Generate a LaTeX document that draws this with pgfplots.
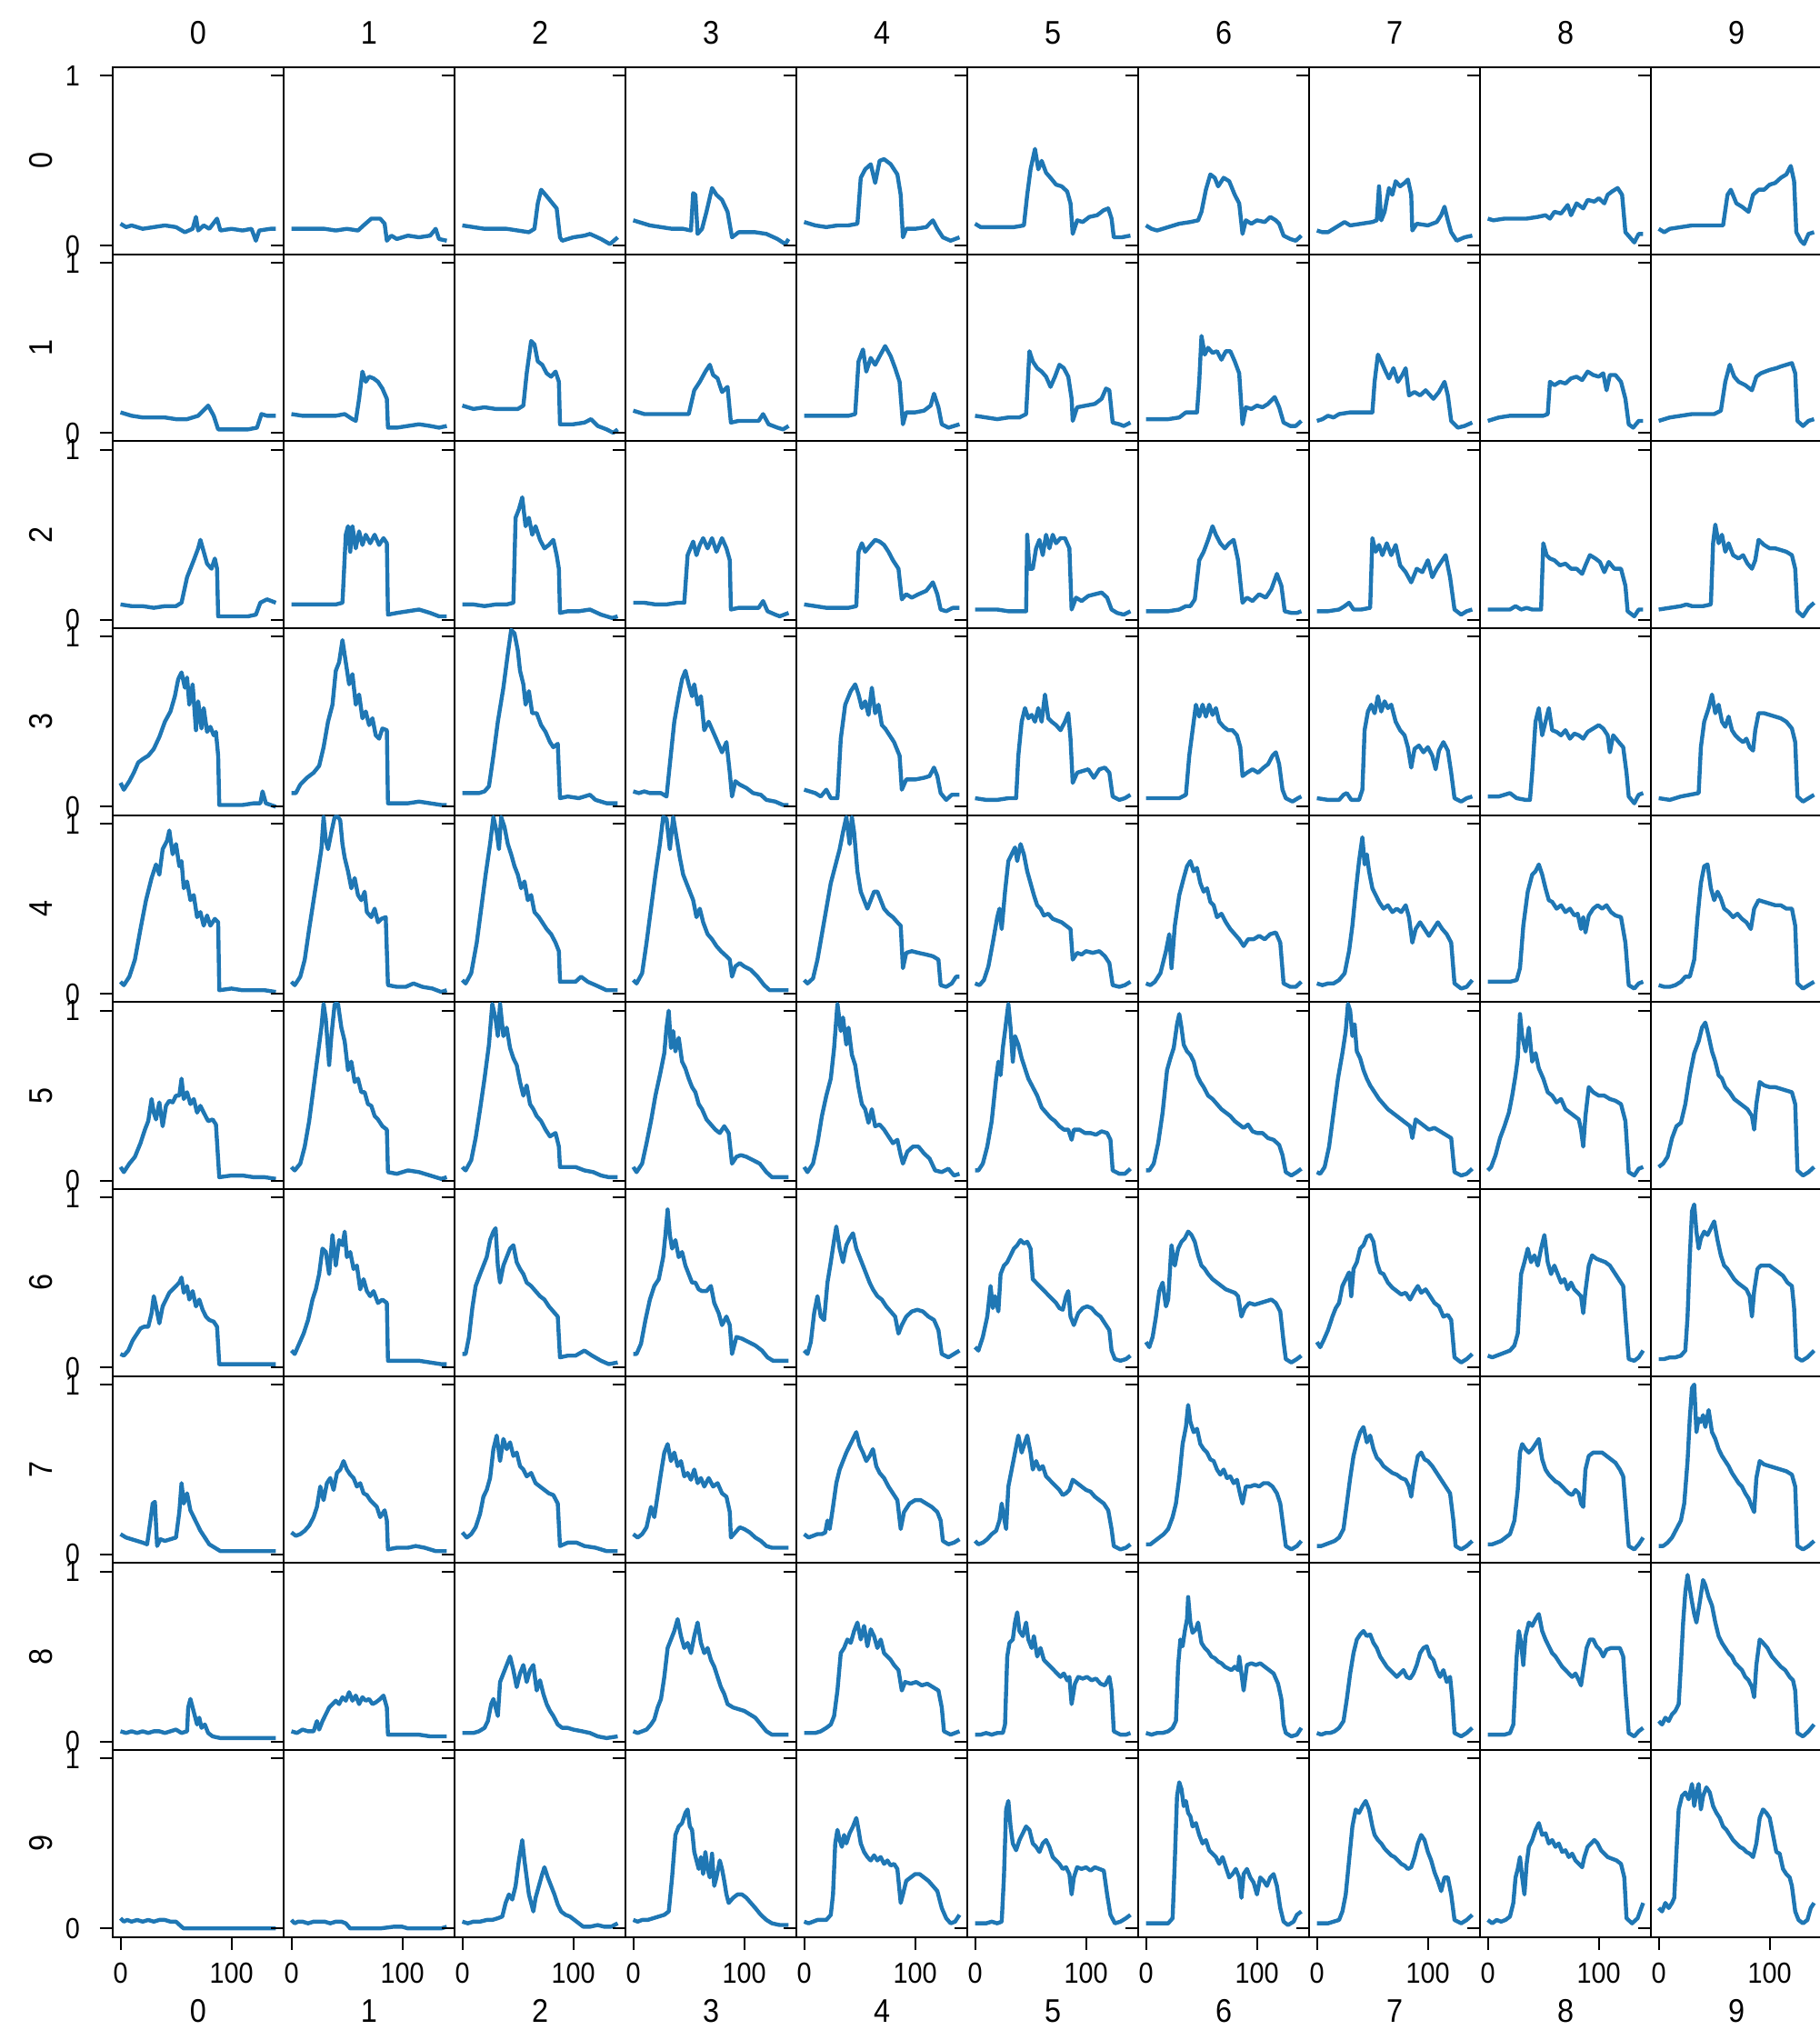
\documentclass[border=0pt]{standalone}
\usepackage{fontspec}
\setmainfont{Liberation Sans}[FakeStretch=0.9]
\usepackage{pgfplots}
\pgfplotsset{compat=1.18}
\definecolor{tabblue}{HTML}{1F77B4}
\pgfplotsset{pan/.style={scale only axis, width=47pt, height=51.4125pt, anchor=north west,
  xmin=-7, xmax=147, ymin=-0.05, ymax=1.05,
  axis line style={black, line width=0.5pt},
  tick align=outside, major tick length=3.5pt,
  every tick/.style={black, line width=0.5pt},
  ytick={0,1}, ytick pos=left, yticklabels={,,},
  xtick=\empty, xtick pos=bottom,
  tick label style={font=\fontsize{8}{9}\selectfont},
  yticklabel style={xshift=-2pt},
  clip=true}}
\newcommand{\panel}[4]{%
  \begin{axis}[pan, at={({(31+47*#2)*1pt},{-(18.525+51.4125*#1)*1pt})}, #3]
  \addplot[tabblue, line width=1.1pt, line join=round] coordinates {#4};
  \end{axis}}
\newcommand{\lc}{yticklabels={0,1}}
\newcommand{\lb}{xtick={0,100}, xticklabels={0,100}}
\begin{document}
\begin{tikzpicture}
% ---------------- row 0
\panel{0}{0}{\lc}{(0,0.13)(5,0.11)(10,0.12)(20,0.10)(30,0.11)(40,0.12)(50,0.11)(58,0.08)(65,0.1)(68,0.17)(70,0.09)(75,0.12)(80,0.1)(87,0.16)(90,0.09)(100,0.1)(110,0.09)(118,0.1)(122,0.03)(125,0.09)(135,0.1)(140,0.1)}
\panel{0}{1}{}{(0,0.1)(10,0.1)(20,0.1)(30,0.1)(40,0.09)(50,0.1)(60,0.09)(65,0.12)(72,0.16)(80,0.16)(84,0.13)(86,0.03)(90,0.06)(95,0.04)(105,0.06)(115,0.05)(125,0.06)(130,0.1)(133,0.04)(140,0.03)}
\panel{0}{2}{}{(0,0.12)(10,0.11)(20,0.1)(30,0.1)(40,0.1)(50,0.09)(60,0.08)(65,0.1)(68,0.25)(71,0.33)(75,0.3)(80,0.26)(85,0.22)(88,0.05)(90,0.03)(100,0.05)(110,0.06)(115,0.07)(125,0.04)(133,0.01)(140,0.05)}
\panel{0}{3}{}{(0,0.15)(5,0.14)(15,0.12)(25,0.11)(35,0.1)(45,0.1)(52,0.09)(54,0.31)(56,0.3)(58,0.07)(62,0.1)(66,0.2)(71,0.34)(75,0.3)(80,0.27)(85,0.2)(89,0.05)(95,0.08)(110,0.08)(120,0.07)(130,0.04)(137,0.01)(140,0.04)}
\panel{0}{4}{}{(0,0.14)(10,0.12)(20,0.11)(30,0.12)(40,0.12)(48,0.13)(51,0.4)(55,0.45)(60,0.48)(64,0.37)(68,0.5)(72,0.51)(78,0.48)(84,0.42)(87,0.3)(89,0.05)(92,0.1)(100,0.1)(110,0.11)(116,0.15)(120,0.1)(125,0.05)(132,0.03)(140,0.05)}
\panel{0}{5}{}{(0,0.13)(5,0.11)(15,0.11)(25,0.11)(35,0.11)(44,0.12)(47,0.3)(50,0.45)(54,0.57)(57,0.45)(60,0.5)(64,0.43)(68,0.4)(73,0.36)(78,0.35)(83,0.32)(86,0.25)(88,0.07)(92,0.15)(97,0.14)(103,0.17)(110,0.18)(116,0.21)(120,0.22)(123,0.16)(125,0.05)(132,0.05)(140,0.06)}
\panel{0}{6}{}{(0,0.12)(5,0.1)(10,0.09)(20,0.11)(30,0.13)(40,0.14)(47,0.15)(50,0.2)(54,0.33)(58,0.42)(62,0.4)(65,0.35)(70,0.4)(75,0.38)(80,0.3)(84,0.25)(87,0.07)(90,0.15)(95,0.13)(100,0.15)(107,0.14)(112,0.17)(117,0.15)(120,0.13)(124,0.06)(130,0.04)(135,0.03)(140,0.06)}
\panel{0}{7}{}{(0,0.09)(5,0.08)(10,0.08)(15,0.1)(20,0.12)(25,0.14)(30,0.12)(40,0.13)(50,0.14)(54,0.15)(56,0.35)(58,0.15)(61,0.2)(65,0.34)(68,0.3)(71,0.38)(75,0.35)(79,0.37)(82,0.39)(85,0.3)(86,0.09)(90,0.13)(100,0.12)(108,0.14)(112,0.18)(115,0.23)(118,0.15)(121,0.08)(126,0.03)(133,0.05)(140,0.06)}
\panel{0}{8}{}{(0,0.16)(5,0.15)(15,0.16)(25,0.16)(35,0.16)(45,0.17)(52,0.18)(56,0.16)(60,0.2)(66,0.19)(72,0.24)(75,0.18)(80,0.25)(86,0.22)(90,0.27)(96,0.26)(100,0.28)(105,0.25)(108,0.3)(112,0.32)(117,0.34)(121,0.3)(124,0.08)(128,0.05)(132,0.02)(136,0.07)(140,0.07)}
\panel{0}{9}{}{(0,0.1)(5,0.08)(10,0.1)(20,0.11)(30,0.12)(40,0.12)(50,0.12)(58,0.12)(62,0.3)(65,0.33)(70,0.25)(75,0.23)(81,0.2)(85,0.3)(90,0.33)(95,0.33)(100,0.36)(105,0.37)(110,0.4)(115,0.42)(119,0.47)(122,0.38)(124,0.08)(128,0.03)(131,0.01)(135,0.07)(140,0.08)}
% ---------------- row 1
\panel{1}{0}{\lc}{(0,0.12)(10,0.1)(20,0.09)(30,0.09)(40,0.09)(50,0.08)(60,0.08)(70,0.1)(76,0.14)(79,0.16)(84,0.1)(88,0.02)(100,0.02)(115,0.02)(123,0.03)(127,0.11)(132,0.1)(140,0.1)}
\panel{1}{1}{}{(0,0.11)(10,0.1)(20,0.1)(30,0.1)(40,0.1)(48,0.11)(55,0.08)(58,0.07)(61,0.2)(64,0.36)(67,0.3)(70,0.33)(74,0.32)(78,0.3)(82,0.26)(86,0.2)(87,0.03)(95,0.03)(105,0.04)(115,0.05)(125,0.04)(133,0.03)(140,0.04)}
\panel{1}{2}{}{(0,0.16)(10,0.14)(20,0.15)(30,0.14)(40,0.14)(50,0.14)(55,0.16)(58,0.35)(62,0.54)(65,0.52)(68,0.42)(72,0.4)(76,0.35)(80,0.33)(84,0.36)(87,0.3)(88,0.05)(100,0.05)(110,0.06)(116,0.08)(122,0.04)(130,0.02)(136,0.0)(140,0.02)}
\panel{1}{3}{}{(0,0.13)(10,0.11)(20,0.11)(30,0.11)(40,0.11)(50,0.11)(55,0.25)(60,0.3)(65,0.36)(69,0.4)(72,0.34)(76,0.32)(80,0.24)(85,0.27)(88,0.06)(95,0.07)(105,0.07)(113,0.07)(117,0.11)(122,0.05)(130,0.03)(135,0.02)(140,0.04)}
\panel{1}{4}{}{(0,0.1)(10,0.1)(20,0.1)(30,0.1)(40,0.1)(46,0.11)(49,0.42)(53,0.49)(56,0.36)(60,0.44)(64,0.4)(68,0.45)(73,0.51)(78,0.45)(82,0.38)(86,0.3)(89,0.05)(92,0.12)(100,0.12)(108,0.13)(114,0.16)(117,0.23)(121,0.15)(124,0.05)(130,0.03)(135,0.04)(140,0.05)}
\panel{1}{5}{}{(0,0.1)(10,0.09)(20,0.08)(30,0.09)(40,0.09)(46,0.11)(49,0.48)(52,0.42)(56,0.38)(60,0.36)(64,0.33)(68,0.27)(72,0.33)(76,0.4)(80,0.38)(84,0.33)(87,0.2)(88,0.07)(92,0.15)(100,0.16)(108,0.17)(114,0.2)(118,0.26)(121,0.25)(124,0.06)(130,0.05)(134,0.04)(140,0.06)}
\panel{1}{6}{}{(0,0.08)(10,0.08)(20,0.08)(30,0.09)(36,0.12)(46,0.12)(48,0.3)(50,0.57)(53,0.46)(56,0.5)(60,0.47)(64,0.48)(68,0.43)(72,0.48)(76,0.48)(80,0.42)(84,0.35)(87,0.05)(90,0.15)(95,0.14)(100,0.16)(105,0.15)(110,0.17)(116,0.21)(120,0.15)(124,0.06)(130,0.04)(135,0.04)(140,0.07)}
\panel{1}{7}{}{(0,0.07)(5,0.08)(10,0.1)(15,0.09)(20,0.11)(30,0.12)(40,0.12)(50,0.12)(52,0.3)(55,0.46)(58,0.42)(62,0.36)(65,0.32)(69,0.38)(73,0.3)(77,0.34)(80,0.38)(83,0.22)(88,0.24)(93,0.22)(98,0.25)(105,0.2)(110,0.24)(115,0.3)(118,0.22)(121,0.07)(127,0.03)(133,0.04)(140,0.06)}
\panel{1}{8}{}{(0,0.07)(5,0.08)(10,0.09)(20,0.1)(30,0.1)(40,0.1)(50,0.1)(54,0.11)(56,0.3)(60,0.28)(65,0.3)(70,0.29)(75,0.32)(80,0.33)(85,0.31)(90,0.36)(95,0.34)(100,0.33)(104,0.35)(107,0.25)(110,0.34)(115,0.34)(120,0.3)(124,0.2)(127,0.05)(131,0.03)(136,0.07)(140,0.07)}
\panel{1}{9}{}{(0,0.07)(5,0.08)(10,0.09)(20,0.1)(30,0.11)(40,0.11)(50,0.11)(56,0.13)(60,0.3)(64,0.4)(68,0.33)(72,0.3)(78,0.28)(84,0.25)(88,0.33)(92,0.35)(100,0.37)(106,0.38)(110,0.39)(115,0.4)(120,0.41)(123,0.35)(125,0.07)(130,0.04)(135,0.07)(140,0.08)}
% ---------------- row 2
\panel{2}{0}{\lc}{(0,0.09)(10,0.08)(20,0.08)(30,0.07)(40,0.08)(50,0.08)(55,0.1)(60,0.25)(66,0.35)(70,0.42)(72,0.47)(75,0.4)(78,0.33)(82,0.3)(85,0.36)(87,0.3)(88,0.02)(100,0.02)(115,0.02)(122,0.03)(126,0.1)(132,0.12)(140,0.1)}
\panel{2}{1}{}{(0,0.09)(10,0.09)(20,0.09)(30,0.09)(40,0.09)(46,0.1)(49,0.5)(51,0.55)(53,0.4)(55,0.55)(58,0.42)(61,0.52)(64,0.44)(67,0.5)(71,0.45)(75,0.5)(79,0.44)(83,0.48)(86,0.45)(87,0.03)(95,0.04)(105,0.05)(115,0.06)(125,0.04)(133,0.02)(140,0.02)}
\panel{2}{2}{}{(0,0.09)(10,0.09)(20,0.08)(30,0.09)(40,0.09)(46,0.1)(48,0.6)(51,0.65)(54,0.72)(57,0.55)(60,0.6)(63,0.5)(66,0.55)(70,0.47)(74,0.42)(78,0.44)(82,0.47)(85,0.38)(87,0.3)(88,0.04)(95,0.05)(105,0.05)(115,0.06)(125,0.03)(135,0.01)(140,0.02)}
\panel{2}{3}{}{(0,0.1)(10,0.1)(20,0.09)(30,0.09)(40,0.1)(46,0.1)(49,0.38)(54,0.46)(57,0.38)(60,0.44)(63,0.48)(67,0.42)(71,0.48)(75,0.4)(80,0.48)(84,0.42)(87,0.35)(88,0.06)(95,0.07)(105,0.07)(113,0.07)(117,0.11)(121,0.05)(128,0.03)(132,0.02)(140,0.04)}
\panel{2}{4}{}{(0,0.09)(10,0.08)(20,0.07)(30,0.07)(40,0.07)(47,0.08)(49,0.4)(52,0.45)(55,0.4)(60,0.44)(64,0.47)(68,0.46)(72,0.44)(76,0.4)(80,0.35)(85,0.3)(88,0.12)(92,0.15)(97,0.13)(103,0.15)(110,0.17)(116,0.22)(120,0.15)(123,0.06)(128,0.05)(134,0.07)(140,0.07)}
\panel{2}{5}{}{(0,0.06)(10,0.06)(20,0.06)(30,0.05)(40,0.05)(46,0.05)(47,0.5)(49,0.3)(52,0.3)(55,0.42)(58,0.47)(61,0.38)(64,0.5)(67,0.42)(70,0.5)(73,0.45)(77,0.48)(81,0.48)(85,0.42)(87,0.06)(91,0.13)(96,0.11)(102,0.14)(108,0.15)(114,0.16)(119,0.13)(123,0.06)(128,0.04)(134,0.03)(140,0.05)}
\panel{2}{6}{}{(0,0.05)(10,0.05)(20,0.05)(30,0.06)(36,0.08)(40,0.08)(44,0.12)(48,0.35)(52,0.4)(56,0.47)(60,0.55)(63,0.5)(67,0.45)(71,0.42)(75,0.45)(79,0.47)(83,0.35)(87,0.1)(91,0.13)(96,0.11)(102,0.15)(108,0.13)(113,0.18)(118,0.27)(122,0.2)(125,0.05)(131,0.04)(136,0.04)(140,0.05)}
\panel{2}{7}{}{(0,0.05)(10,0.05)(20,0.06)(25,0.08)(29,0.1)(33,0.06)(40,0.06)(48,0.07)(50,0.48)(53,0.4)(56,0.44)(59,0.38)(63,0.45)(67,0.38)(71,0.44)(75,0.32)(80,0.28)(85,0.22)(90,0.3)(95,0.28)(100,0.35)(104,0.25)(108,0.3)(113,0.35)(116,0.38)(120,0.25)(124,0.06)(130,0.03)(135,0.05)(140,0.06)}
\panel{2}{8}{}{(0,0.06)(10,0.06)(20,0.06)(25,0.08)(30,0.06)(35,0.07)(40,0.06)(48,0.06)(50,0.45)(53,0.38)(56,0.36)(60,0.35)(65,0.32)(70,0.33)(75,0.3)(80,0.3)(85,0.27)(88,0.32)(92,0.38)(97,0.36)(101,0.34)(105,0.28)(109,0.34)(114,0.3)(120,0.3)(124,0.2)(126,0.05)(132,0.02)(136,0.06)(140,0.06)}
\panel{2}{9}{}{(0,0.06)(10,0.07)(20,0.08)(25,0.09)(30,0.08)(40,0.08)(47,0.09)(49,0.45)(51,0.56)(54,0.45)(57,0.5)(60,0.4)(63,0.45)(67,0.38)(72,0.36)(76,0.38)(80,0.33)(84,0.3)(87,0.35)(90,0.47)(95,0.44)(100,0.42)(105,0.42)(110,0.41)(115,0.4)(120,0.38)(123,0.3)(125,0.05)(130,0.02)(135,0.07)(140,0.1)}
% ---------------- row 3
\panel{3}{0}{\lc}{(0,0.14)(3,0.1)(8,0.15)(12,0.2)(16,0.26)(20,0.28)(25,0.3)(30,0.34)(35,0.41)(40,0.5)(45,0.56)(49,0.65)(52,0.75)(55,0.79)(58,0.7)(60,0.76)(62,0.6)(65,0.72)(68,0.45)(70,0.62)(73,0.46)(75,0.58)(78,0.44)(81,0.47)(84,0.42)(86,0.44)(88,0.3)(89,0.01)(100,0.01)(110,0.01)(120,0.02)(126,0.02)(128,0.09)(131,0.02)(140,0.0)}
\panel{3}{1}{}{(0,0.08)(4,0.08)(8,0.13)(14,0.17)(20,0.2)(25,0.24)(29,0.35)(33,0.5)(37,0.6)(40,0.8)(43,0.85)(46,0.98)(49,0.85)(52,0.72)(55,0.78)(58,0.6)(61,0.66)(64,0.52)(67,0.56)(70,0.48)(73,0.52)(76,0.42)(79,0.4)(82,0.46)(86,0.45)(87,0.02)(95,0.02)(105,0.02)(115,0.03)(125,0.02)(135,0.01)(140,0.01)}
\panel{3}{2}{}{(0,0.08)(5,0.08)(10,0.08)(15,0.08)(20,0.09)(24,0.12)(28,0.3)(32,0.5)(37,0.7)(41,0.9)(44,1.04)(47,1.02)(50,0.92)(52,0.8)(55,0.72)(57,0.6)(60,0.68)(63,0.55)(67,0.55)(71,0.48)(75,0.44)(79,0.38)(82,0.35)(86,0.37)(88,0.05)(95,0.06)(105,0.05)(115,0.07)(120,0.04)(130,0.02)(140,0.02)}
\panel{3}{3}{}{(0,0.09)(5,0.08)(10,0.09)(15,0.08)(20,0.08)(25,0.08)(30,0.06)(33,0.25)(37,0.5)(41,0.65)(44,0.75)(47,0.8)(50,0.72)(53,0.65)(55,0.72)(58,0.6)(61,0.65)(64,0.45)(68,0.5)(72,0.44)(76,0.38)(80,0.32)(84,0.38)(87,0.2)(89,0.06)(92,0.15)(96,0.13)(102,0.11)(108,0.08)(115,0.07)(120,0.04)(128,0.03)(135,0.01)(140,0.01)}
\panel{3}{4}{}{(0,0.1)(5,0.09)(10,0.08)(15,0.06)(20,0.1)(24,0.05)(30,0.05)(33,0.4)(37,0.6)(42,0.68)(46,0.72)(49,0.66)(52,0.58)(55,0.62)(58,0.54)(61,0.7)(64,0.55)(67,0.6)(70,0.48)(73,0.46)(77,0.42)(81,0.38)(86,0.3)(88,0.1)(92,0.16)(100,0.16)(108,0.17)(113,0.18)(117,0.23)(120,0.18)(123,0.08)(128,0.04)(133,0.07)(140,0.07)}
\panel{3}{5}{}{(0,0.05)(10,0.04)(20,0.04)(30,0.05)(37,0.05)(39,0.3)(42,0.5)(45,0.58)(48,0.52)(51,0.54)(54,0.5)(57,0.58)(60,0.5)(63,0.66)(66,0.52)(69,0.5)(73,0.48)(77,0.45)(81,0.5)(84,0.55)(86,0.4)(88,0.14)(92,0.2)(97,0.21)(102,0.22)(107,0.17)(112,0.22)(117,0.23)(121,0.2)(124,0.06)(130,0.04)(135,0.05)(140,0.07)}
\panel{3}{6}{}{(0,0.05)(10,0.05)(20,0.05)(30,0.05)(36,0.07)(39,0.3)(42,0.45)(45,0.6)(48,0.53)(51,0.6)(54,0.53)(57,0.6)(60,0.54)(63,0.58)(66,0.5)(70,0.47)(74,0.45)(78,0.45)(82,0.42)(85,0.35)(87,0.18)(91,0.2)(96,0.22)(101,0.2)(106,0.23)(110,0.25)(114,0.3)(117,0.32)(120,0.25)(123,0.1)(126,0.05)(132,0.03)(137,0.05)(140,0.06)}
\panel{3}{7}{}{(0,0.05)(10,0.04)(20,0.04)(24,0.07)(27,0.08)(31,0.04)(38,0.04)(41,0.1)(43,0.45)(46,0.56)(49,0.6)(52,0.55)(55,0.65)(58,0.56)(61,0.62)(64,0.58)(67,0.6)(71,0.5)(75,0.45)(79,0.42)(82,0.35)(85,0.23)(88,0.34)(92,0.36)(96,0.32)(100,0.35)(104,0.3)(107,0.22)(110,0.33)(114,0.38)(118,0.33)(121,0.2)(124,0.05)(130,0.03)(135,0.05)(140,0.06)}
\panel{3}{8}{}{(0,0.06)(10,0.06)(20,0.08)(26,0.05)(34,0.04)(38,0.04)(40,0.2)(43,0.5)(46,0.58)(49,0.42)(52,0.5)(55,0.58)(58,0.45)(62,0.44)(66,0.42)(70,0.45)(74,0.4)(78,0.43)(82,0.42)(86,0.4)(90,0.44)(95,0.46)(100,0.48)(104,0.46)(108,0.42)(110,0.32)(113,0.42)(118,0.38)(122,0.35)(125,0.2)(127,0.06)(132,0.02)(136,0.07)(140,0.08)}
\panel{3}{9}{}{(0,0.05)(10,0.04)(20,0.06)(28,0.07)(36,0.08)(38,0.35)(41,0.5)(45,0.58)(48,0.66)(51,0.55)(54,0.6)(57,0.5)(60,0.47)(63,0.53)(66,0.45)(69,0.42)(72,0.4)(76,0.38)(79,0.4)(82,0.35)(85,0.33)(87,0.45)(90,0.55)(95,0.55)(100,0.54)(105,0.53)(110,0.52)(115,0.5)(120,0.46)(123,0.38)(125,0.06)(130,0.03)(135,0.05)(140,0.07)}
% ---------------- row 4
\panel{4}{0}{\lc}{(0,0.07)(3,0.05)(8,0.1)(13,0.2)(18,0.38)(23,0.55)(28,0.68)(32,0.76)(35,0.7)(38,0.85)(42,0.9)(44,0.96)(47,0.82)(50,0.88)(53,0.75)(55,0.78)(57,0.62)(60,0.66)(63,0.55)(66,0.58)(69,0.45)(72,0.48)(75,0.4)(78,0.46)(81,0.4)(85,0.44)(88,0.42)(89,0.02)(100,0.03)(110,0.02)(120,0.02)(130,0.02)(140,0.01)}
\panel{4}{1}{}{(0,0.07)(3,0.05)(8,0.1)(12,0.2)(16,0.38)(20,0.55)(24,0.72)(27,0.85)(29,1.04)(31,0.9)(33,0.85)(36,0.95)(39,1.04)(42,1.04)(44,1.02)(46,0.88)(48,0.8)(51,0.72)(54,0.62)(57,0.68)(60,0.58)(63,0.55)(66,0.6)(68,0.48)(72,0.45)(75,0.5)(78,0.42)(81,0.44)(85,0.45)(87,0.05)(95,0.04)(103,0.04)(110,0.06)(118,0.04)(127,0.03)(135,0.01)(140,0.02)}
\panel{4}{2}{}{(0,0.08)(3,0.06)(8,0.12)(13,0.3)(17,0.5)(21,0.7)(25,0.88)(28,1.04)(31,0.95)(33,0.85)(35,1.04)(38,0.98)(41,0.88)(44,0.82)(47,0.75)(50,0.7)(53,0.62)(56,0.66)(59,0.55)(62,0.58)(65,0.48)(69,0.45)(72,0.42)(76,0.38)(80,0.35)(84,0.3)(87,0.25)(88,0.07)(95,0.07)(102,0.07)(107,0.1)(113,0.07)(120,0.05)(130,0.02)(140,0.02)}
\panel{4}{3}{}{(0,0.08)(3,0.06)(8,0.12)(12,0.3)(16,0.5)(20,0.7)(24,0.88)(27,1.04)(30,1.03)(33,0.85)(36,1.04)(39,0.92)(42,0.8)(45,0.7)(48,0.65)(51,0.6)(54,0.55)(57,0.45)(60,0.5)(63,0.42)(67,0.35)(71,0.32)(75,0.28)(79,0.25)(84,0.22)(87,0.2)(89,0.1)(92,0.16)(96,0.18)(100,0.16)(106,0.14)(112,0.1)(118,0.05)(123,0.02)(130,0.02)(140,0.02)}
\panel{4}{4}{}{(0,0.08)(3,0.06)(8,0.09)(12,0.2)(16,0.35)(20,0.5)(24,0.65)(28,0.75)(32,0.85)(35,0.95)(38,1.04)(41,0.88)(43,1.04)(45,0.95)(48,0.72)(51,0.6)(54,0.55)(57,0.5)(60,0.55)(63,0.6)(66,0.6)(69,0.55)(72,0.5)(76,0.47)(80,0.45)(84,0.42)(87,0.4)(89,0.15)(92,0.24)(97,0.25)(103,0.24)(110,0.23)(116,0.22)(121,0.2)(123,0.05)(128,0.04)(133,0.06)(137,0.1)(140,0.1)}
\panel{4}{5}{}{(0,0.06)(4,0.05)(8,0.08)(12,0.16)(16,0.3)(20,0.45)(22,0.5)(24,0.38)(27,0.6)(30,0.78)(33,0.82)(36,0.86)(38,0.78)(41,0.88)(44,0.82)(47,0.72)(50,0.65)(53,0.58)(56,0.52)(59,0.5)(62,0.46)(66,0.47)(70,0.44)(74,0.43)(78,0.42)(82,0.4)(86,0.38)(88,0.2)(92,0.24)(96,0.23)(100,0.25)(106,0.24)(112,0.25)(117,0.22)(121,0.18)(124,0.05)(130,0.04)(135,0.05)(140,0.07)}
\panel{4}{6}{}{(0,0.06)(4,0.05)(8,0.07)(13,0.12)(18,0.25)(21,0.35)(23,0.15)(26,0.4)(30,0.58)(34,0.68)(37,0.75)(40,0.78)(43,0.72)(46,0.74)(49,0.65)(52,0.6)(55,0.62)(58,0.54)(61,0.52)(64,0.45)(68,0.47)(72,0.42)(76,0.38)(80,0.35)(84,0.32)(88,0.28)(92,0.32)(97,0.32)(102,0.34)(107,0.32)(112,0.35)(117,0.36)(121,0.3)(124,0.06)(130,0.04)(135,0.04)(140,0.07)}
\panel{4}{7}{}{(0,0.06)(5,0.05)(10,0.06)(15,0.06)(20,0.08)(25,0.12)(29,0.25)(32,0.4)(35,0.6)(38,0.78)(41,0.92)(43,0.76)(45,0.82)(47,0.72)(50,0.62)(53,0.58)(56,0.54)(60,0.5)(64,0.52)(68,0.48)(72,0.5)(76,0.48)(80,0.52)(83,0.45)(86,0.3)(89,0.38)(93,0.42)(97,0.38)(101,0.34)(105,0.38)(109,0.42)(113,0.38)(117,0.35)(121,0.3)(124,0.06)(130,0.03)(135,0.04)(140,0.08)}
\panel{4}{8}{}{(0,0.07)(10,0.07)(20,0.07)(26,0.08)(29,0.15)(32,0.4)(36,0.6)(40,0.7)(43,0.72)(46,0.76)(49,0.7)(52,0.62)(55,0.55)(58,0.54)(62,0.5)(66,0.52)(70,0.48)(74,0.5)(78,0.46)(81,0.47)(84,0.38)(86,0.45)(88,0.36)(91,0.46)(95,0.5)(99,0.52)(103,0.5)(107,0.52)(111,0.48)(115,0.46)(120,0.45)(124,0.3)(127,0.05)(132,0.03)(136,0.06)(140,0.07)}
\panel{4}{9}{}{(0,0.05)(5,0.04)(10,0.04)(15,0.05)(20,0.07)(24,0.1)(28,0.1)(32,0.2)(35,0.45)(38,0.65)(41,0.75)(44,0.76)(47,0.62)(50,0.55)(53,0.6)(56,0.56)(59,0.5)(63,0.48)(67,0.45)(71,0.47)(75,0.44)(79,0.42)(83,0.38)(86,0.5)(90,0.55)(95,0.54)(100,0.53)(105,0.52)(110,0.52)(115,0.5)(120,0.5)(123,0.4)(125,0.06)(130,0.03)(135,0.05)(140,0.07)}
% ---------------- row 5
\panel{5}{0}{\lc}{(0,0.08)(3,0.05)(8,0.1)(13,0.14)(18,0.22)(22,0.3)(25,0.35)(28,0.48)(30,0.4)(32,0.36)(35,0.46)(38,0.32)(41,0.44)(44,0.47)(47,0.46)(50,0.5)(53,0.5)(55,0.6)(57,0.48)(60,0.52)(63,0.45)(66,0.48)(69,0.4)(72,0.44)(75,0.4)(79,0.35)(83,0.36)(86,0.33)(89,0.02)(100,0.03)(110,0.03)(120,0.02)(130,0.02)(140,0.01)}
\panel{5}{1}{}{(0,0.08)(3,0.06)(8,0.1)(12,0.2)(16,0.35)(20,0.55)(24,0.75)(27,0.9)(29,1.04)(31,0.95)(34,0.68)(36,0.85)(39,1.04)(42,1.04)(45,0.9)(48,0.82)(51,0.65)(54,0.7)(57,0.58)(60,0.6)(63,0.52)(66,0.52)(69,0.45)(72,0.44)(75,0.38)(78,0.36)(82,0.32)(86,0.3)(87,0.05)(95,0.04)(105,0.06)(115,0.05)(125,0.03)(135,0.01)(140,0.02)}
\panel{5}{2}{}{(0,0.08)(3,0.06)(8,0.12)(12,0.25)(16,0.42)(20,0.6)(24,0.8)(27,1.04)(30,0.95)(32,0.85)(34,1.04)(37,0.85)(40,0.9)(43,0.78)(46,0.72)(49,0.68)(52,0.58)(55,0.5)(58,0.56)(61,0.45)(64,0.42)(67,0.38)(71,0.35)(75,0.3)(79,0.26)(84,0.28)(87,0.2)(88,0.08)(95,0.08)(102,0.08)(110,0.06)(118,0.05)(125,0.03)(132,0.02)(140,0.02)}
\panel{5}{3}{}{(0,0.08)(3,0.05)(8,0.1)(12,0.22)(16,0.35)(20,0.5)(24,0.62)(28,0.75)(30,0.9)(32,1.0)(34,0.78)(36,0.88)(38,0.76)(41,0.84)(44,0.7)(47,0.66)(50,0.6)(53,0.55)(56,0.52)(59,0.45)(62,0.42)(66,0.36)(70,0.33)(74,0.3)(78,0.28)(82,0.32)(86,0.28)(89,0.1)(93,0.14)(97,0.15)(102,0.14)(108,0.12)(114,0.1)(120,0.05)(125,0.02)(132,0.02)(140,0.02)}
\panel{5}{4}{}{(0,0.08)(3,0.05)(8,0.1)(12,0.22)(16,0.38)(20,0.5)(24,0.6)(27,0.78)(30,1.04)(33,0.88)(35,0.96)(38,0.8)(40,0.9)(43,0.74)(46,0.68)(49,0.55)(52,0.45)(55,0.42)(58,0.34)(61,0.42)(64,0.32)(68,0.33)(72,0.3)(76,0.26)(80,0.22)(84,0.24)(87,0.15)(89,0.1)(93,0.17)(98,0.2)(103,0.2)(108,0.16)(113,0.13)(118,0.06)(124,0.05)(130,0.07)(135,0.03)(140,0.04)}
\panel{5}{5}{}{(0,0.06)(3,0.06)(7,0.1)(11,0.2)(15,0.35)(19,0.6)(21,0.7)(23,0.62)(25,0.78)(27,0.88)(30,1.04)(32,0.9)(34,0.7)(36,0.85)(39,0.8)(42,0.72)(45,0.66)(48,0.6)(52,0.55)(56,0.5)(60,0.43)(64,0.4)(68,0.37)(72,0.35)(76,0.32)(80,0.3)(84,0.3)(87,0.24)(89,0.3)(94,0.3)(99,0.28)(104,0.28)(109,0.27)(114,0.29)(119,0.28)(122,0.24)(124,0.06)(130,0.04)(135,0.04)(140,0.07)}
\panel{5}{6}{}{(0,0.06)(3,0.06)(7,0.1)(11,0.22)(15,0.4)(19,0.65)(22,0.72)(25,0.78)(28,0.92)(30,0.98)(32,0.9)(34,0.8)(37,0.76)(40,0.74)(43,0.7)(46,0.62)(49,0.58)(52,0.55)(56,0.5)(60,0.48)(64,0.45)(68,0.42)(72,0.4)(76,0.38)(80,0.35)(84,0.33)(88,0.31)(92,0.33)(96,0.29)(100,0.28)(105,0.28)(110,0.25)(115,0.24)(120,0.21)(123,0.15)(126,0.05)(131,0.03)(136,0.05)(140,0.07)}
\panel{5}{7}{}{(0,0.05)(3,0.04)(7,0.08)(11,0.2)(15,0.4)(19,0.6)(23,0.75)(26,0.88)(28,1.04)(30,1.0)(32,0.85)(34,0.92)(36,0.76)(39,0.72)(42,0.65)(45,0.6)(48,0.56)(52,0.52)(56,0.48)(60,0.45)(64,0.42)(68,0.4)(72,0.38)(76,0.36)(80,0.34)(84,0.32)(86,0.25)(89,0.36)(93,0.34)(97,0.32)(101,0.3)(106,0.31)(111,0.29)(116,0.27)(121,0.25)(124,0.05)(130,0.03)(135,0.04)(140,0.07)}
\panel{5}{8}{}{(0,0.06)(3,0.08)(7,0.15)(11,0.25)(15,0.32)(19,0.4)(22,0.5)(25,0.62)(27,0.72)(29,0.98)(31,0.85)(34,0.76)(37,0.9)(40,0.7)(43,0.75)(46,0.66)(50,0.6)(54,0.52)(58,0.5)(62,0.46)(66,0.48)(70,0.42)(74,0.4)(78,0.38)(82,0.36)(84,0.3)(86,0.2)(88,0.38)(91,0.55)(95,0.52)(100,0.5)(105,0.5)(110,0.48)(115,0.47)(120,0.45)(124,0.35)(127,0.05)(132,0.03)(136,0.07)(140,0.08)}
\panel{5}{9}{}{(0,0.08)(4,0.1)(8,0.14)(12,0.25)(16,0.32)(20,0.34)(24,0.45)(28,0.62)(32,0.75)(36,0.82)(39,0.9)(42,0.93)(45,0.85)(48,0.76)(51,0.7)(54,0.62)(57,0.6)(60,0.55)(64,0.52)(68,0.48)(72,0.46)(76,0.44)(80,0.42)(84,0.38)(86,0.3)(88,0.45)(91,0.58)(95,0.56)(100,0.55)(105,0.55)(110,0.54)(115,0.53)(120,0.52)(123,0.45)(125,0.06)(130,0.03)(135,0.05)(140,0.08)}
% ---------------- row 6
\panel{6}{0}{\lc}{(0,0.08)(3,0.07)(7,0.1)(11,0.16)(15,0.2)(18,0.23)(21,0.24)(25,0.24)(28,0.32)(30,0.42)(32,0.36)(35,0.26)(38,0.36)(41,0.4)(44,0.44)(47,0.46)(50,0.48)(53,0.5)(55,0.53)(57,0.44)(60,0.48)(62,0.4)(65,0.45)(68,0.36)(71,0.4)(74,0.34)(77,0.3)(80,0.28)(84,0.27)(87,0.24)(89,0.02)(100,0.02)(110,0.02)(120,0.02)(130,0.02)(140,0.02)}
\panel{6}{1}{}{(0,0.1)(3,0.08)(7,0.14)(11,0.2)(15,0.28)(19,0.4)(22,0.46)(25,0.55)(28,0.7)(31,0.68)(34,0.55)(37,0.78)(40,0.6)(43,0.75)(46,0.72)(48,0.8)(50,0.65)(53,0.68)(56,0.58)(59,0.6)(62,0.46)(65,0.52)(68,0.45)(71,0.42)(74,0.45)(78,0.38)(82,0.4)(86,0.38)(87,0.04)(95,0.04)(105,0.04)(115,0.04)(125,0.03)(135,0.02)(140,0.02)}
\panel{6}{2}{}{(0,0.08)(3,0.08)(6,0.18)(9,0.35)(12,0.48)(16,0.55)(19,0.6)(22,0.65)(25,0.75)(28,0.8)(30,0.82)(32,0.6)(34,0.5)(37,0.6)(40,0.65)(43,0.7)(46,0.72)(49,0.62)(52,0.58)(55,0.55)(58,0.5)(62,0.48)(66,0.45)(70,0.42)(74,0.4)(78,0.36)(82,0.33)(86,0.3)(88,0.06)(95,0.07)(102,0.07)(110,0.1)(117,0.07)(125,0.04)(132,0.02)(140,0.03)}
\panel{6}{3}{}{(0,0.08)(3,0.08)(7,0.14)(11,0.28)(15,0.4)(19,0.48)(23,0.52)(27,0.65)(29,0.78)(31,0.93)(33,0.78)(35,0.7)(38,0.75)(41,0.65)(44,0.68)(47,0.6)(50,0.55)(53,0.5)(56,0.5)(59,0.46)(62,0.45)(66,0.45)(70,0.48)(73,0.38)(77,0.32)(80,0.25)(84,0.3)(87,0.25)(89,0.08)(93,0.18)(98,0.17)(104,0.15)(110,0.13)(116,0.1)(121,0.06)(126,0.04)(133,0.04)(140,0.04)}
\panel{6}{4}{}{(0,0.1)(3,0.08)(6,0.15)(9,0.32)(12,0.42)(15,0.3)(18,0.28)(21,0.5)(24,0.62)(27,0.75)(29,0.83)(32,0.7)(35,0.62)(38,0.72)(41,0.76)(44,0.79)(47,0.7)(50,0.65)(53,0.6)(56,0.55)(59,0.5)(62,0.46)(66,0.42)(70,0.4)(74,0.36)(78,0.33)(82,0.3)(85,0.2)(88,0.25)(92,0.3)(97,0.33)(102,0.34)(107,0.33)(112,0.3)(117,0.28)(121,0.22)(124,0.08)(130,0.06)(135,0.08)(140,0.1)}
\panel{6}{5}{}{(0,0.12)(3,0.1)(7,0.18)(11,0.3)(14,0.48)(16,0.35)(18,0.42)(21,0.33)(23,0.55)(26,0.6)(29,0.62)(32,0.66)(35,0.7)(38,0.72)(41,0.75)(44,0.73)(47,0.74)(50,0.7)(52,0.52)(55,0.5)(58,0.48)(61,0.46)(64,0.44)(67,0.42)(70,0.4)(73,0.38)(76,0.35)(79,0.34)(82,0.42)(84,0.45)(86,0.3)(89,0.25)(93,0.32)(97,0.35)(101,0.36)(105,0.35)(109,0.32)(113,0.3)(117,0.26)(121,0.22)(123,0.1)(126,0.05)(131,0.04)(136,0.05)(140,0.07)}
\panel{6}{6}{}{(0,0.15)(3,0.12)(6,0.18)(9,0.3)(12,0.45)(15,0.5)(18,0.36)(20,0.4)(23,0.72)(26,0.6)(29,0.7)(32,0.74)(35,0.76)(38,0.8)(41,0.78)(44,0.74)(47,0.66)(50,0.6)(53,0.58)(56,0.55)(60,0.52)(64,0.5)(68,0.48)(72,0.46)(76,0.45)(80,0.44)(83,0.42)(86,0.3)(89,0.35)(93,0.38)(98,0.37)(103,0.38)(108,0.39)(113,0.4)(117,0.38)(121,0.33)(124,0.15)(126,0.05)(131,0.03)(136,0.05)(140,0.07)}
\panel{6}{7}{}{(0,0.15)(3,0.12)(6,0.16)(10,0.22)(14,0.3)(17,0.35)(20,0.38)(23,0.48)(26,0.52)(29,0.56)(31,0.42)(33,0.58)(36,0.62)(39,0.7)(42,0.72)(45,0.77)(48,0.78)(51,0.74)(54,0.62)(57,0.56)(60,0.55)(64,0.5)(68,0.47)(72,0.45)(76,0.43)(80,0.44)(84,0.4)(88,0.45)(91,0.48)(94,0.44)(98,0.46)(102,0.42)(106,0.38)(110,0.36)(114,0.3)(118,0.31)(121,0.28)(124,0.06)(130,0.03)(135,0.05)(140,0.08)}
\panel{6}{8}{}{(0,0.07)(4,0.06)(8,0.07)(12,0.08)(16,0.09)(20,0.1)(24,0.13)(27,0.2)(30,0.55)(33,0.62)(36,0.7)(39,0.62)(42,0.66)(45,0.6)(48,0.7)(51,0.78)(54,0.62)(57,0.55)(60,0.6)(63,0.55)(66,0.5)(69,0.52)(72,0.46)(75,0.5)(78,0.46)(81,0.44)(84,0.42)(86,0.32)(88,0.45)(91,0.6)(94,0.66)(98,0.64)(102,0.63)(106,0.62)(110,0.6)(114,0.56)(118,0.52)(122,0.48)(124,0.3)(127,0.05)(132,0.04)(136,0.06)(140,0.1)}
\panel{6}{9}{}{(0,0.05)(5,0.05)(10,0.06)(15,0.06)(20,0.07)(24,0.1)(26,0.3)(28,0.65)(30,0.92)(32,0.96)(34,0.8)(36,0.7)(38,0.76)(41,0.8)(44,0.78)(47,0.82)(50,0.86)(53,0.75)(56,0.66)(59,0.6)(62,0.58)(65,0.55)(68,0.52)(71,0.5)(75,0.48)(79,0.46)(82,0.42)(84,0.3)(86,0.45)(89,0.58)(92,0.6)(96,0.6)(100,0.6)(104,0.58)(108,0.56)(112,0.54)(116,0.5)(120,0.48)(122,0.35)(124,0.06)(129,0.04)(134,0.06)(140,0.1)}
% ---------------- row 7
\panel{7}{0}{\lc}{(0,0.12)(5,0.1)(10,0.09)(15,0.08)(20,0.07)(24,0.06)(27,0.2)(29,0.3)(31,0.31)(33,0.05)(36,0.09)(40,0.08)(45,0.09)(50,0.1)(53,0.25)(55,0.42)(57,0.3)(60,0.36)(63,0.26)(66,0.22)(69,0.18)(72,0.14)(76,0.1)(80,0.06)(85,0.04)(90,0.02)(100,0.02)(110,0.02)(120,0.02)(130,0.02)(140,0.02)}
\panel{7}{1}{}{(0,0.13)(4,0.11)(8,0.12)(12,0.14)(16,0.17)(20,0.22)(23,0.28)(26,0.4)(29,0.32)(32,0.42)(35,0.45)(38,0.38)(41,0.48)(44,0.5)(47,0.55)(50,0.5)(53,0.47)(56,0.45)(59,0.4)(62,0.42)(65,0.36)(68,0.35)(71,0.32)(74,0.3)(77,0.28)(80,0.22)(84,0.26)(86,0.2)(87,0.03)(95,0.04)(105,0.04)(112,0.05)(120,0.04)(130,0.02)(140,0.02)}
\panel{7}{2}{}{(0,0.13)(4,0.1)(8,0.12)(12,0.16)(16,0.24)(19,0.34)(22,0.38)(25,0.45)(28,0.62)(31,0.7)(34,0.55)(37,0.68)(40,0.62)(43,0.66)(46,0.58)(49,0.6)(52,0.52)(55,0.5)(58,0.46)(62,0.48)(66,0.42)(70,0.4)(74,0.38)(78,0.36)(82,0.35)(86,0.3)(88,0.05)(95,0.07)(103,0.07)(110,0.05)(120,0.04)(130,0.02)(140,0.02)}
\panel{7}{3}{}{(0,0.12)(4,0.1)(8,0.12)(12,0.16)(16,0.28)(19,0.22)(22,0.35)(25,0.48)(28,0.6)(31,0.65)(34,0.55)(37,0.6)(40,0.52)(43,0.55)(46,0.46)(49,0.48)(52,0.44)(55,0.5)(58,0.42)(61,0.45)(64,0.4)(68,0.45)(72,0.4)(76,0.42)(80,0.36)(84,0.34)(87,0.25)(88,0.1)(92,0.13)(96,0.16)(100,0.15)(105,0.13)(110,0.1)(115,0.08)(120,0.05)(125,0.04)(132,0.04)(140,0.04)}
\panel{7}{4}{}{(0,0.12)(4,0.1)(8,0.11)(12,0.12)(16,0.12)(19,0.13)(21,0.2)(23,0.15)(26,0.28)(29,0.42)(32,0.5)(35,0.55)(38,0.6)(41,0.64)(44,0.68)(47,0.72)(50,0.64)(53,0.6)(56,0.55)(59,0.58)(62,0.62)(65,0.52)(68,0.48)(72,0.45)(76,0.4)(80,0.36)(84,0.32)(87,0.15)(90,0.25)(95,0.3)(100,0.32)(105,0.32)(110,0.3)(115,0.28)(120,0.25)(123,0.2)(125,0.08)(130,0.06)(135,0.07)(140,0.09)}
\panel{7}{5}{}{(0,0.08)(3,0.06)(7,0.07)(11,0.09)(15,0.12)(19,0.14)(22,0.2)(24,0.3)(26,0.22)(28,0.15)(30,0.4)(33,0.5)(36,0.6)(39,0.7)(42,0.6)(45,0.66)(47,0.7)(50,0.6)(52,0.5)(55,0.55)(58,0.5)(61,0.52)(64,0.46)(67,0.44)(70,0.42)(73,0.4)(76,0.38)(79,0.35)(82,0.36)(85,0.38)(88,0.44)(92,0.42)(96,0.4)(100,0.38)(104,0.37)(108,0.34)(112,0.32)(116,0.3)(120,0.26)(123,0.15)(125,0.05)(131,0.03)(136,0.04)(140,0.06)}
\panel{7}{6}{}{(0,0.06)(4,0.06)(8,0.08)(12,0.1)(16,0.12)(20,0.15)(24,0.22)(27,0.3)(30,0.45)(33,0.65)(36,0.75)(38,0.88)(40,0.78)(43,0.72)(46,0.74)(49,0.65)(52,0.62)(55,0.6)(58,0.56)(61,0.55)(64,0.5)(67,0.47)(70,0.5)(73,0.45)(76,0.46)(79,0.42)(82,0.44)(85,0.35)(87,0.3)(90,0.4)(94,0.4)(98,0.41)(102,0.4)(106,0.42)(110,0.42)(114,0.4)(118,0.36)(121,0.3)(124,0.15)(126,0.05)(131,0.03)(136,0.05)(140,0.08)}
\panel{7}{7}{}{(0,0.05)(4,0.05)(8,0.06)(12,0.07)(16,0.08)(20,0.1)(24,0.15)(27,0.3)(30,0.45)(33,0.58)(36,0.66)(39,0.72)(42,0.75)(45,0.66)(48,0.7)(51,0.62)(54,0.57)(57,0.55)(60,0.52)(64,0.5)(68,0.48)(72,0.47)(76,0.45)(80,0.44)(83,0.4)(85,0.34)(88,0.48)(91,0.58)(94,0.6)(97,0.56)(100,0.55)(104,0.52)(108,0.48)(112,0.44)(116,0.4)(120,0.36)(123,0.2)(125,0.05)(130,0.03)(135,0.05)(140,0.08)}
\panel{7}{8}{}{(0,0.06)(4,0.06)(8,0.07)(12,0.08)(16,0.1)(20,0.12)(24,0.2)(27,0.38)(29,0.6)(31,0.65)(34,0.62)(37,0.6)(40,0.62)(43,0.65)(46,0.68)(49,0.56)(52,0.5)(55,0.47)(58,0.45)(61,0.43)(64,0.42)(67,0.4)(70,0.38)(73,0.36)(76,0.35)(79,0.38)(82,0.36)(84,0.3)(86,0.28)(88,0.5)(91,0.58)(95,0.6)(99,0.6)(103,0.6)(107,0.58)(111,0.56)(115,0.54)(119,0.5)(122,0.46)(124,0.3)(127,0.05)(132,0.03)(136,0.06)(140,0.1)}
\panel{7}{9}{}{(0,0.05)(4,0.05)(8,0.07)(12,0.1)(16,0.15)(20,0.2)(23,0.3)(26,0.55)(28,0.8)(30,0.98)(32,1.0)(34,0.72)(36,0.8)(38,0.78)(40,0.82)(42,0.75)(45,0.85)(48,0.72)(51,0.68)(54,0.62)(57,0.58)(60,0.55)(63,0.52)(66,0.48)(69,0.45)(72,0.42)(75,0.4)(78,0.36)(81,0.33)(84,0.28)(86,0.25)(88,0.45)(91,0.55)(95,0.53)(100,0.52)(105,0.51)(110,0.5)(115,0.49)(120,0.47)(123,0.4)(125,0.05)(130,0.03)(135,0.05)(140,0.08)}
% ---------------- row 8
\panel{8}{0}{\lc}{(0,0.06)(5,0.05)(10,0.06)(15,0.05)(20,0.06)(25,0.05)(30,0.06)(35,0.06)(40,0.05)(45,0.06)(50,0.07)(55,0.05)(60,0.06)(61,0.2)(63,0.25)(65,0.2)(67,0.15)(69,0.1)(71,0.14)(73,0.08)(76,0.1)(79,0.05)(83,0.03)(90,0.02)(100,0.02)(110,0.02)(120,0.02)(130,0.02)(140,0.02)}
\panel{8}{1}{}{(0,0.06)(5,0.05)(10,0.07)(15,0.06)(20,0.06)(23,0.12)(25,0.07)(28,0.12)(31,0.16)(34,0.2)(37,0.22)(40,0.24)(43,0.22)(46,0.26)(49,0.24)(52,0.29)(55,0.24)(58,0.27)(61,0.22)(64,0.26)(67,0.24)(70,0.25)(73,0.22)(76,0.23)(80,0.25)(83,0.27)(86,0.2)(87,0.04)(95,0.04)(105,0.04)(115,0.04)(125,0.03)(140,0.03)}
\panel{8}{2}{}{(0,0.05)(5,0.05)(10,0.05)(15,0.06)(20,0.08)(23,0.12)(26,0.22)(28,0.25)(30,0.2)(32,0.15)(34,0.35)(37,0.4)(40,0.45)(43,0.5)(46,0.42)(49,0.32)(52,0.4)(55,0.45)(58,0.35)(61,0.42)(64,0.45)(67,0.3)(70,0.36)(73,0.28)(76,0.22)(79,0.18)(82,0.15)(86,0.1)(90,0.08)(95,0.08)(100,0.07)(108,0.06)(115,0.05)(122,0.03)(130,0.02)(140,0.03)}
\panel{8}{3}{}{(0,0.06)(4,0.05)(8,0.06)(12,0.07)(16,0.1)(19,0.13)(22,0.2)(25,0.25)(28,0.38)(31,0.55)(34,0.6)(37,0.65)(40,0.72)(43,0.62)(46,0.55)(49,0.58)(52,0.52)(55,0.62)(58,0.7)(61,0.58)(64,0.52)(67,0.55)(70,0.48)(73,0.44)(76,0.38)(79,0.32)(82,0.28)(85,0.22)(90,0.2)(95,0.19)(100,0.18)(105,0.16)(110,0.14)(115,0.1)(120,0.06)(125,0.04)(132,0.04)(140,0.04)}
\panel{8}{4}{}{(0,0.05)(5,0.05)(10,0.05)(15,0.06)(20,0.08)(24,0.1)(27,0.15)(30,0.3)(33,0.52)(36,0.55)(39,0.6)(42,0.58)(45,0.65)(48,0.7)(51,0.6)(54,0.68)(57,0.56)(60,0.66)(63,0.62)(66,0.55)(69,0.6)(72,0.52)(75,0.5)(78,0.48)(81,0.45)(85,0.42)(88,0.3)(91,0.35)(96,0.34)(101,0.35)(106,0.33)(111,0.34)(116,0.32)(121,0.3)(124,0.2)(126,0.06)(132,0.04)(136,0.05)(140,0.06)}
\panel{8}{5}{}{(0,0.04)(5,0.04)(10,0.05)(15,0.04)(20,0.05)(25,0.05)(27,0.1)(29,0.5)(31,0.58)(34,0.6)(36,0.7)(38,0.76)(40,0.65)(43,0.62)(46,0.7)(48,0.6)(51,0.55)(53,0.62)(56,0.5)(59,0.55)(62,0.48)(65,0.46)(68,0.44)(71,0.42)(74,0.4)(77,0.38)(80,0.4)(83,0.36)(85,0.38)(87,0.22)(90,0.34)(93,0.38)(97,0.37)(101,0.38)(105,0.36)(109,0.37)(113,0.34)(117,0.33)(121,0.38)(123,0.3)(125,0.06)(131,0.04)(136,0.04)(140,0.05)}
\panel{8}{6}{}{(0,0.05)(5,0.04)(10,0.05)(15,0.05)(20,0.06)(24,0.08)(27,0.12)(29,0.45)(31,0.6)(33,0.56)(35,0.65)(37,0.72)(38,0.85)(40,0.7)(42,0.64)(45,0.66)(47,0.7)(50,0.58)(53,0.55)(56,0.53)(59,0.5)(62,0.49)(65,0.47)(68,0.46)(71,0.44)(74,0.43)(77,0.42)(80,0.44)(83,0.42)(84,0.5)(86,0.4)(88,0.3)(91,0.45)(95,0.46)(99,0.45)(103,0.46)(107,0.44)(111,0.42)(115,0.4)(119,0.34)(122,0.25)(124,0.1)(126,0.05)(131,0.03)(136,0.04)(140,0.08)}
\panel{8}{7}{}{(0,0.05)(4,0.04)(8,0.05)(12,0.05)(16,0.06)(20,0.08)(24,0.12)(27,0.25)(30,0.4)(33,0.52)(36,0.6)(39,0.63)(42,0.65)(45,0.62)(48,0.63)(51,0.58)(54,0.55)(57,0.5)(60,0.47)(63,0.44)(66,0.42)(69,0.4)(72,0.38)(75,0.4)(78,0.42)(81,0.38)(84,0.37)(87,0.4)(90,0.45)(93,0.52)(96,0.55)(99,0.56)(102,0.5)(105,0.48)(108,0.42)(111,0.38)(114,0.42)(117,0.35)(120,0.38)(122,0.25)(124,0.05)(130,0.03)(135,0.05)(140,0.08)}
\panel{8}{8}{}{(0,0.04)(5,0.04)(10,0.04)(15,0.04)(20,0.05)(23,0.1)(26,0.5)(28,0.65)(30,0.58)(32,0.45)(34,0.62)(37,0.7)(40,0.68)(43,0.72)(46,0.75)(49,0.65)(52,0.6)(55,0.56)(58,0.52)(61,0.5)(64,0.47)(67,0.44)(70,0.42)(73,0.4)(76,0.38)(79,0.4)(82,0.36)(84,0.33)(86,0.42)(89,0.55)(92,0.6)(95,0.6)(98,0.56)(101,0.54)(104,0.5)(107,0.54)(111,0.55)(115,0.55)(119,0.55)(122,0.5)(124,0.3)(127,0.05)(132,0.03)(136,0.06)(140,0.08)}
\panel{8}{9}{}{(0,0.12)(3,0.1)(6,0.14)(9,0.12)(12,0.16)(15,0.18)(18,0.22)(20,0.45)(22,0.7)(24,0.88)(26,0.98)(28,0.9)(30,0.82)(32,0.75)(34,0.7)(37,0.82)(40,0.95)(42,0.92)(45,0.85)(48,0.8)(51,0.7)(54,0.62)(57,0.58)(60,0.55)(63,0.52)(66,0.5)(69,0.46)(72,0.44)(75,0.42)(78,0.38)(81,0.36)(84,0.32)(86,0.26)(88,0.45)(91,0.6)(94,0.58)(98,0.55)(102,0.5)(106,0.47)(110,0.44)(114,0.42)(118,0.38)(121,0.36)(123,0.3)(125,0.05)(130,0.03)(135,0.06)(140,0.1)}
% ---------------- row 9
\panel{9}{0}{\lc,\lb}{(0,0.06)(3,0.04)(6,0.05)(10,0.04)(15,0.05)(20,0.04)(25,0.05)(30,0.04)(35,0.05)(40,0.05)(45,0.04)(50,0.04)(55,0.01)(57,0.0)(70,0.0)(85,0.0)(100,0.0)(115,0.0)(130,0.0)(140,0.0)}
\panel{9}{1}{\lb}{(0,0.05)(3,0.03)(6,0.04)(10,0.04)(15,0.03)(20,0.04)(25,0.04)(30,0.04)(35,0.03)(40,0.04)(45,0.04)(49,0.03)(53,0.0)(65,0.0)(80,0.0)(92,0.01)(100,0.01)(105,0.0)(120,0.0)(135,0.0)(140,0.01)}
\panel{9}{2}{\lb}{(0,0.04)(5,0.03)(10,0.04)(16,0.04)(22,0.05)(27,0.05)(32,0.06)(36,0.07)(39,0.15)(42,0.2)(45,0.17)(48,0.25)(51,0.4)(54,0.52)(56,0.4)(58,0.3)(60,0.2)(62,0.15)(64,0.1)(66,0.18)(69,0.25)(72,0.32)(74,0.36)(77,0.3)(80,0.25)(83,0.2)(86,0.14)(89,0.1)(93,0.08)(97,0.07)(101,0.05)(105,0.03)(109,0.01)(115,0.01)(122,0.02)(128,0.01)(134,0.01)(140,0.03)}
\panel{9}{3}{\lb}{(0,0.05)(4,0.04)(8,0.05)(13,0.05)(18,0.06)(23,0.07)(28,0.08)(32,0.1)(35,0.3)(38,0.55)(41,0.6)(44,0.62)(47,0.68)(49,0.7)(51,0.6)(53,0.58)(55,0.45)(57,0.4)(59,0.35)(61,0.42)(63,0.32)(65,0.45)(67,0.35)(69,0.3)(71,0.44)(73,0.25)(75,0.3)(78,0.4)(80,0.35)(82,0.28)(84,0.2)(86,0.15)(90,0.18)(94,0.2)(98,0.2)(102,0.18)(106,0.15)(110,0.12)(115,0.08)(120,0.05)(125,0.03)(132,0.02)(140,0.02)}
\panel{9}{4}{\lb}{(0,0.04)(4,0.03)(8,0.04)(12,0.05)(16,0.05)(20,0.05)(24,0.08)(26,0.2)(28,0.5)(30,0.58)(32,0.52)(34,0.48)(36,0.55)(38,0.5)(41,0.56)(44,0.6)(47,0.65)(49,0.58)(51,0.5)(54,0.45)(57,0.42)(60,0.4)(63,0.43)(66,0.4)(69,0.42)(72,0.38)(75,0.4)(78,0.37)(81,0.38)(84,0.35)(87,0.15)(89,0.2)(92,0.28)(96,0.3)(100,0.32)(104,0.32)(108,0.3)(112,0.28)(116,0.25)(120,0.22)(124,0.12)(128,0.06)(132,0.03)(136,0.04)(140,0.08)}
\panel{9}{5}{\lb}{(0,0.03)(5,0.03)(10,0.03)(15,0.04)(20,0.03)(24,0.04)(26,0.3)(28,0.7)(30,0.75)(32,0.6)(34,0.5)(37,0.46)(40,0.52)(43,0.56)(46,0.6)(49,0.58)(52,0.5)(55,0.48)(58,0.45)(61,0.5)(64,0.52)(67,0.48)(70,0.42)(73,0.4)(76,0.38)(79,0.35)(82,0.36)(85,0.32)(87,0.2)(89,0.3)(92,0.36)(96,0.35)(100,0.36)(104,0.34)(108,0.36)(112,0.35)(116,0.34)(119,0.2)(122,0.08)(126,0.03)(131,0.04)(136,0.06)(140,0.08)}
\panel{9}{6}{\lb}{(0,0.03)(5,0.03)(10,0.03)(15,0.03)(20,0.03)(24,0.06)(26,0.4)(28,0.78)(30,0.86)(32,0.82)(34,0.72)(36,0.75)(38,0.68)(40,0.66)(42,0.6)(45,0.62)(48,0.55)(51,0.5)(54,0.52)(57,0.46)(60,0.44)(63,0.42)(66,0.38)(69,0.42)(72,0.36)(75,0.3)(78,0.32)(81,0.35)(84,0.3)(86,0.18)(88,0.32)(91,0.35)(94,0.3)(97,0.27)(100,0.2)(103,0.3)(106,0.28)(109,0.25)(112,0.3)(115,0.32)(118,0.25)(121,0.12)(124,0.04)(128,0.02)(133,0.04)(136,0.08)(140,0.1)}
\panel{9}{7}{\lb}{(0,0.03)(5,0.03)(10,0.03)(15,0.04)(20,0.05)(23,0.1)(26,0.2)(29,0.4)(32,0.6)(35,0.7)(38,0.68)(41,0.72)(44,0.75)(47,0.7)(50,0.6)(52,0.55)(55,0.52)(58,0.5)(61,0.47)(64,0.45)(67,0.43)(70,0.42)(73,0.4)(76,0.38)(79,0.37)(82,0.35)(85,0.36)(88,0.42)(91,0.5)(94,0.55)(97,0.52)(100,0.45)(103,0.4)(106,0.33)(109,0.28)(112,0.22)(115,0.3)(118,0.3)(121,0.2)(124,0.05)(130,0.03)(135,0.05)(140,0.08)}
\panel{9}{8}{\lb}{(0,0.05)(4,0.03)(8,0.05)(12,0.04)(16,0.05)(20,0.07)(23,0.15)(25,0.3)(27,0.35)(29,0.42)(31,0.3)(33,0.2)(35,0.38)(37,0.48)(40,0.52)(43,0.58)(46,0.62)(49,0.55)(52,0.56)(55,0.5)(58,0.52)(61,0.48)(64,0.5)(67,0.45)(70,0.46)(73,0.42)(76,0.44)(79,0.4)(82,0.38)(85,0.36)(87,0.42)(90,0.48)(93,0.5)(96,0.52)(99,0.5)(102,0.46)(105,0.44)(108,0.42)(112,0.41)(116,0.4)(120,0.38)(123,0.3)(125,0.06)(130,0.03)(135,0.06)(140,0.15)}
\panel{9}{9}{\lb}{(0,0.12)(3,0.1)(6,0.15)(9,0.12)(12,0.15)(14,0.18)(16,0.45)(18,0.7)(21,0.78)(24,0.8)(27,0.76)(30,0.85)(32,0.72)(34,0.8)(36,0.85)(38,0.7)(40,0.78)(43,0.83)(46,0.8)(49,0.72)(52,0.68)(55,0.65)(58,0.6)(61,0.58)(64,0.55)(67,0.52)(70,0.5)(73,0.48)(76,0.47)(79,0.45)(82,0.44)(85,0.42)(88,0.5)(91,0.65)(94,0.7)(97,0.68)(100,0.65)(103,0.55)(106,0.45)(109,0.44)(112,0.35)(115,0.32)(118,0.3)(120,0.25)(123,0.1)(126,0.05)(130,0.03)(134,0.05)(137,0.12)(140,0.15)}
% ---------------- labels
\foreach \c in {0,...,9} {
  \node[font=\fontsize{9}{10}\selectfont, anchor=center] at ({(54.5+47*\c)*1pt}, -9.0pt) {\c};
  \node[font=\fontsize{9}{10}\selectfont, anchor=center] at ({(54.5+47*\c)*1pt}, -553pt) {\c};
}
\foreach \r in {0,...,9} {
  \node[font=\fontsize{9}{10}\selectfont, anchor=center, rotate=90] at (11.2pt, {-(44.23+51.4125*\r)*1pt}) {\r};
}
\pgfresetboundingbox
\useasboundingbox (0,0) rectangle (500.25pt,-558.25pt);
\end{tikzpicture}
\end{document}
